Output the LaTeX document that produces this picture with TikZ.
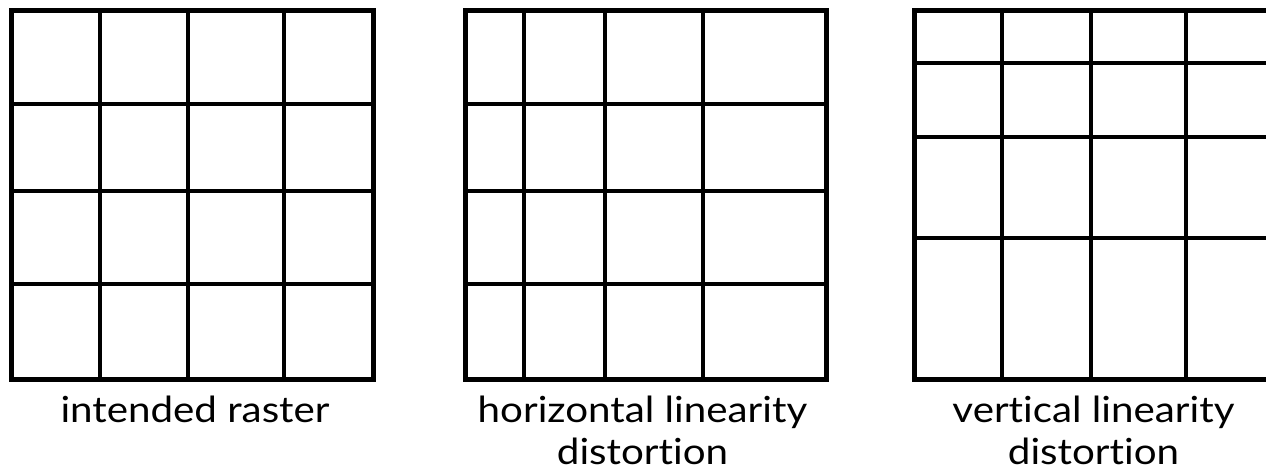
\documentclass[tikz,border=0pt]{standalone}
\usepackage{fontspec}
\setmainfont{Lato}[Ligatures={NoCommon}]
\newcommand{\captext}[1]{\scalebox{1.12}[1]{\fontsize{36}{42}\selectfont #1}}
\begin{document}
\begin{tikzpicture}[x=1pt,y=-1pt,
  outer/.style={line width=5pt,line join=miter},
  inner/.style={line width=3.6pt},
  caption/.style={inner sep=0pt,anchor=base}]
\useasboundingbox (0,0) rectangle (1266,470);
\clip (0,0) rectangle (1266,470);
\fill[white] (0,0) rectangle (1266,470);
% grid 1
\foreach \x in {100,188,284} \draw[inner] (\x,11) -- (\x,379);
\foreach \y in {104,191,284} \draw[inner] (11.5,\y) -- (373,\y);
\draw[outer] (11.5,11) rectangle (373,379);
% grid 2
\foreach \x in {524,605,703} \draw[inner] (\x,11) -- (\x,379);
\foreach \y in {104,191,284} \draw[inner] (465,\y) -- (826,\y);
\draw[outer] (465,11) rectangle (826,379);
% grid 3
\foreach \x in {1002,1091,1186} \draw[inner] (\x,11) -- (\x,379);
\foreach \y in {63,137,238} \draw[inner] (914,\y) -- (1280,\y);
\draw[outer] (914,11) rectangle (1280,379);
% captions
\node[caption] (c1) at (195,422) {\captext{intended raster}};
\node[caption] (c2) at (642.5,422) {\captext{horizontal linearity}};
\node[caption] (c2b) at (642.5,464) {\captext{distortion}};
\node[caption] (c3) at (1093.5,422) {\captext{vertical linearity}};
\node[caption] (c3b) at (1093.5,464) {\captext{distortion}};
\end{tikzpicture}
\end{document}
